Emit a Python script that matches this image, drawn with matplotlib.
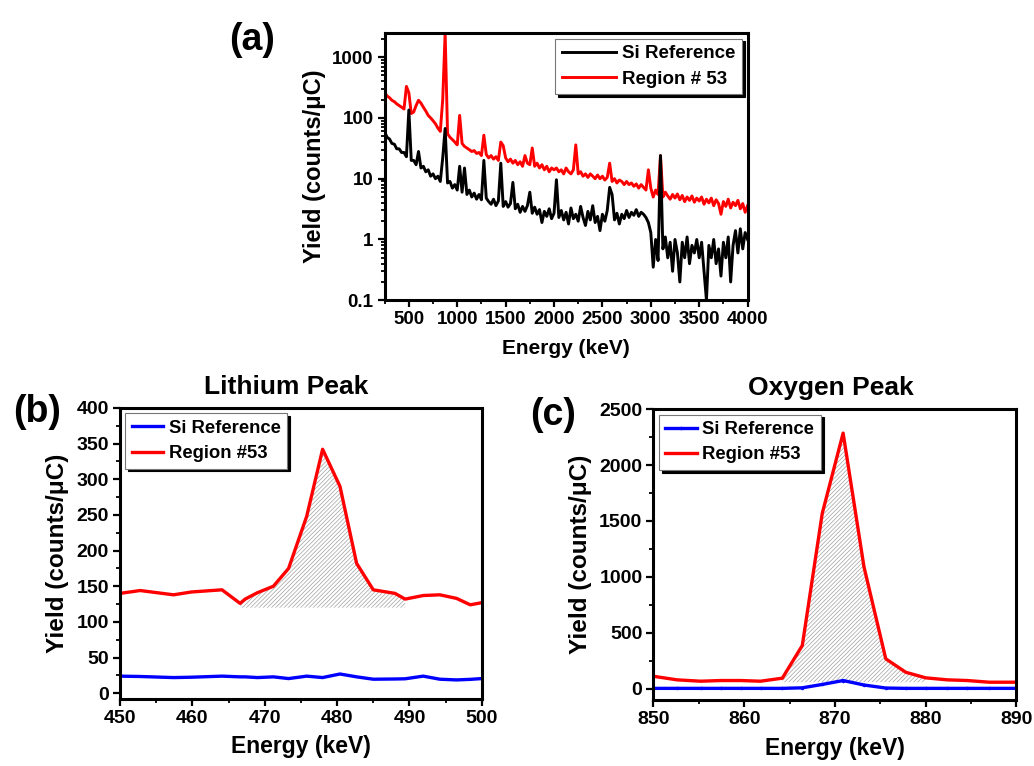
import matplotlib
matplotlib.use("Agg")
import matplotlib.pyplot as plt
import matplotlib.ticker as mticker
import numpy as np

plt.rcParams['font.family'] = ['Liberation Sans', 'DejaVu Sans']
plt.rcParams['font.weight'] = 'bold'
plt.rcParams['axes.labelweight'] = 'bold'
plt.rcParams['hatch.linewidth'] = 0.5

# ---- panel (a): full spectrum, 25 keV steps ----
spec_energy = list(range(250, 4001, 25))
si_ref_spec = [
    59, 48, 45, 38, 37, 31, 31, 27, 27, 23,
    135, 20, 20, 17, 28, 15, 16, 13, 14, 11,
    12, 10, 11, 9, 22, 67, 8.5, 9, 7, 8,
    6.5, 16, 6, 15, 5.5, 6.5, 5, 5.8, 4.6, 5.5,
    4.5, 20, 4.8, 4.2, 3.8, 4.6, 3.6, 4.3, 18, 3.5,
    4.2, 3.4, 3.9, 8.7, 3.2, 3.8, 2.8, 3.5, 2.9, 3.6,
    6, 2.7, 3.4, 2.6, 3.1, 1.9, 2.9, 2.4, 3.2, 2.2,
    2.7, 9.6, 2.3, 3.0, 2.1, 2.8, 1.8, 3.3, 2.2, 2.6,
    2.0, 3.5, 2.3, 1.7, 2.9, 2.1, 3.6, 1.9, 2.4, 1.4,
    2.6, 2.0, 3.0, 7.2, 5.5, 2.1, 2.7, 1.8, 2.6, 2.2,
    3.0, 2.3, 2.8, 2.5, 3.1, 2.4, 2.8, 2.6, 2.3, 1.9,
    1.3, 0.35, 1.0, 0.45, 24, 0.7, 1.1, 0.5, 0.9, 0.3,
    1.0, 0.6, 0.2, 0.9, 0.5, 1.1, 0.4, 0.8, 0.6, 1.0,
    0.5, 0.9, 0.3, 0.1, 0.8, 0.5, 1.0, 0.4, 0.7, 0.25,
    0.9, 0.5, 1.1, 0.2, 0.8, 1.4, 0.6, 1.5, 0.7, 1.3,
    1.0]
region53_spec = [
    260, 230, 215, 195, 185, 170, 160, 150, 140, 330,
    260, 118, 125, 160, 195, 175, 150, 130, 110, 100,
    90, 80, 68, 60, 200, 2500, 55, 48, 44, 40,
    36, 110, 38, 34, 32, 30, 28, 29, 26, 27,
    24, 52, 25, 22, 24, 21, 23, 20, 40, 35,
    22, 19, 21, 18, 20, 17, 19, 16, 24, 18,
    17, 32, 16, 18, 15, 17, 14, 16, 13, 15,
    14, 15, 13, 14, 12, 15, 13, 12, 14, 36,
    12, 13, 11, 12, 10.5, 12, 11, 10, 11.5, 10,
    11, 9.5, 10.5, 18, 9, 10, 8.5, 9.5, 9, 8,
    9, 8, 8.5, 7.5, 8.2, 7, 8, 7.2, 6.5, 14,
    7, 5, 6.5, 5.5, 24, 5, 6, 5.2, 4.6, 5.5,
    4.8, 5.6, 4.5, 5.3, 4.2, 5, 4.4, 5.2, 4.1, 4.8,
    4.3, 5, 3.8, 4.6, 4, 4.8, 3.6, 4.5, 3.9, 2.6,
    4.2, 3.5, 4.6, 3.3, 4.1, 3.6, 4.4, 3.2, 3.9, 2.8,
    3.6]

# ---- panel (b): lithium peak ----
li_energy = [450, 452.8, 457.4, 459.9, 464.1, 466.6, 467.3, 469.0, 471.2, 473.3, 475.8,
             478.0, 480.4, 482.7, 485.0, 488.0, 489.4, 491.9, 494.2, 496.5, 498.4, 500]
li_region53 = [140, 144, 138, 142, 145, 126, 132, 141, 150, 175, 248,
               342, 290, 182, 145, 140, 132, 137, 138, 133, 124, 127]
li_si_ref = [24, 23.5, 22, 22.5, 24, 23, 23, 22, 23, 20.6, 24,
             22, 27, 23, 19.7, 20, 20.3, 24, 19.7, 18.7, 19.5, 20.6]
li_window = (466.6, 489.4)
li_base = 120

# ---- panel (c): oxygen peak ----
o_energy = [850, 852.6, 855.2, 857.4, 859.6, 861.8, 864.2, 866.4, 868.6, 870.9, 873.2,
            875.6, 877.8, 880.0, 882.4, 884.6, 887.0, 890]
o_region53 = [113, 81, 69, 75, 75, 69, 96, 388, 1568, 2285, 1090,
              269, 149, 99, 81, 75, 60, 60]
o_si_ref = [5, 5, 5, 5, 5, 5, 5, 10, 40, 75, 35,
            8, 5, 5, 5, 5, 5, 5]
o_window = (864.2, 880.0)
o_base = 60


def style_axes(ax, tick_size=14):
    for sp in ax.spines.values():
        sp.set_linewidth(2.2)
    ax.tick_params(which='major', direction='out', length=5, width=1.6,
                   labelsize=tick_size, top=False, right=False, pad=3)
    ax.tick_params(which='minor', direction='out', length=2.8, width=1.3,
                   top=False, right=False)
    for lab in ax.get_xticklabels() + ax.get_yticklabels():
        lab.set_fontweight('bold')


def add_legend(ax, handles, labels, loc, hl, fs):
    leg = ax.legend(handles, labels, loc=loc, handlelength=hl, fontsize=fs,
                    fancybox=False, framealpha=1, borderaxespad=0.3,
                    handletextpad=0.3, borderpad=0.35, labelspacing=0.45,
                    shadow={'color': 'black', 'alpha': 1})
    leg.get_frame().set_edgecolor('#777777')
    leg.get_frame().set_linewidth(0.8)
    for t in leg.get_texts():
        t.set_fontweight('bold')
    return leg


fig = plt.figure(figsize=(10.34, 7.66), dpi=100)

# (a)
ax_a = fig.add_axes([0.372, 0.608, 0.351, 0.349])
l_red, = ax_a.plot(spec_energy, region53_spec, color='#ff0000', lw=2.1)
l_blk, = ax_a.plot(spec_energy, si_ref_spec, color='black', lw=2.1)
ax_a.set_yscale('log')
ax_a.set_xlim(250, 4000)
ax_a.set_ylim(0.1, 2500)
ax_a.xaxis.set_major_locator(mticker.MultipleLocator(500))
ax_a.xaxis.set_minor_locator(mticker.MultipleLocator(250))
ax_a.yaxis.set_major_locator(mticker.FixedLocator([0.1, 1, 10, 100, 1000]))
ax_a.yaxis.set_major_formatter(mticker.FuncFormatter(lambda v, p: format(v, 'g')))
ax_a.yaxis.set_minor_locator(mticker.LogLocator(base=10, subs=np.arange(2, 10)))
ax_a.yaxis.set_minor_formatter(mticker.NullFormatter())
ax_a.set_xlabel('Energy (keV)', fontsize=15, labelpad=8)
ax_a.set_ylabel('Yield (counts/\u03bcC)', fontsize=17, labelpad=4)
style_axes(ax_a, 13.5)
add_legend(ax_a, [l_blk, l_red], ['Si Reference', 'Region # 53'], 'upper right', 2.9, 13.5)
fig.text(0.244, 0.948, '(a)', fontsize=27, fontweight='bold', va='center', ha='center')

# (b)
ax_b = fig.add_axes([0.116, 0.0875, 0.350, 0.380])
li_e = np.array(li_energy)
li_mask = (li_e >= li_window[0]) & (li_e <= li_window[1])
ax_b.fill_between(li_e[li_mask], li_base, np.array(li_region53)[li_mask],
                  facecolor='white', edgecolor='#a0a0a0', hatch='////////', linewidth=0)
lb_blue, = ax_b.plot(li_energy, li_si_ref, color='#0000ff', lw=2.4)
lb_red, = ax_b.plot(li_energy, li_region53, color='#ff0000', lw=2.4)
ax_b.set_xlim(450, 500)
ax_b.set_ylim(-8, 400)
ax_b.xaxis.set_major_locator(mticker.MultipleLocator(10))
ax_b.xaxis.set_minor_locator(mticker.MultipleLocator(5))
ax_b.yaxis.set_major_locator(mticker.MultipleLocator(50))
ax_b.yaxis.set_minor_locator(mticker.MultipleLocator(25))
ax_b.set_xlabel('Energy (keV)', fontsize=16.5, labelpad=6)
ax_b.set_ylabel('Yield (counts/\u03bcC)', fontsize=17.5, labelpad=5)
ax_b.text(0.46, 1.03, 'Lithium Peak', transform=ax_b.transAxes, ha='center', va='bottom',
          fontsize=19, fontweight='bold')
style_axes(ax_b)
add_legend(ax_b, [lb_blue, lb_red], ['Si Reference', 'Region #53'], 'upper left', 1.7, 13.3)
fig.text(0.036, 0.462, '(b)', fontsize=27, fontweight='bold', va='center', ha='center')

# (c)
ax_c = fig.add_axes([0.632, 0.086, 0.351, 0.380])
o_e = np.array(o_energy)
o_mask = (o_e >= o_window[0]) & (o_e <= o_window[1])
ax_c.fill_between(o_e[o_mask], o_base, np.array(o_region53)[o_mask],
                  facecolor='white', edgecolor='#a0a0a0', hatch='////////', linewidth=0)
lc_blue, = ax_c.plot(o_energy, o_si_ref, color='#0000ff', lw=2.4, marker='.', ms=3)
lc_red, = ax_c.plot(o_energy, o_region53, color='#ff0000', lw=2.4)
ax_c.set_xlim(850, 890)
ax_c.set_ylim(-100, 2500)
ax_c.xaxis.set_major_locator(mticker.MultipleLocator(10))
ax_c.xaxis.set_minor_locator(mticker.MultipleLocator(5))
ax_c.yaxis.set_major_locator(mticker.MultipleLocator(500))
ax_c.yaxis.set_minor_locator(mticker.MultipleLocator(250))
ax_c.set_xlabel('Energy (keV)', fontsize=16.5, labelpad=6)
ax_c.set_ylabel('Yield (counts/\u03bcC)', fontsize=17.5, labelpad=5)
ax_c.text(0.49, 1.03, 'Oxygen Peak', transform=ax_c.transAxes, ha='center', va='bottom',
          fontsize=19, fontweight='bold')
style_axes(ax_c)
add_legend(ax_c, [lc_blue, lc_red], ['Si Reference', 'Region #53'], 'upper left', 1.7, 13.3)
fig.text(0.535, 0.458, '(c)', fontsize=27, fontweight='bold', va='center', ha='center')

fig.savefig('out.png', dpi=100)
